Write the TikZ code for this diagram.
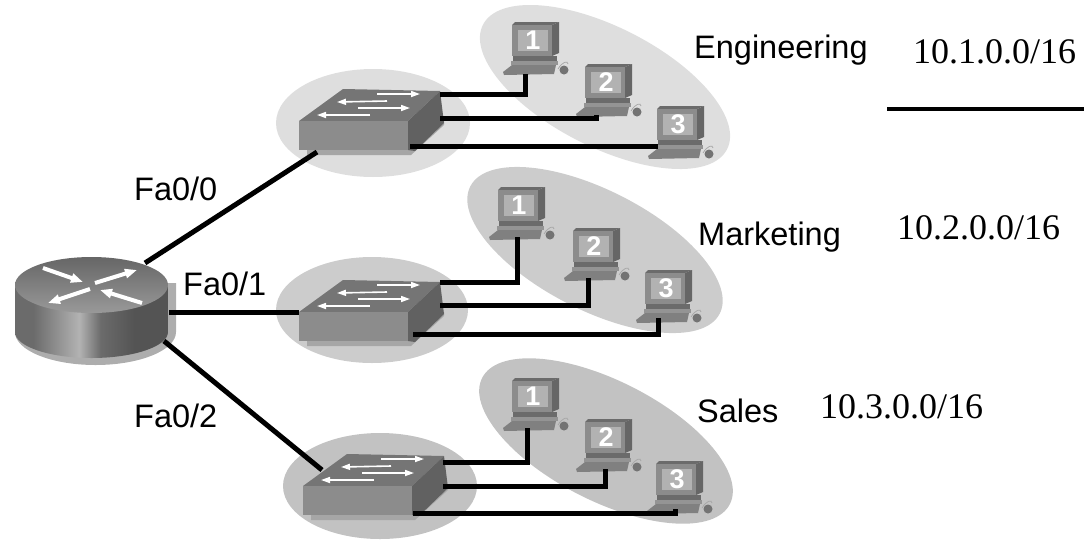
\documentclass[tikz,border=0pt]{standalone}
\usepackage{fontspec}
\setmainfont{Liberation Sans}
\newfontfamily\addrfont{Liberation Serif}
\usetikzlibrary{arrows.meta}
\definecolor{halolight}{gray}{0.87}
\definecolor{halomid}{gray}{0.80}
\definecolor{halodark}{gray}{0.76}
\definecolor{rtrdark}{gray}{0.33}
\definecolor{rtrmid}{gray}{0.42}
\definecolor{rtrlight}{gray}{0.70}
\pgfdeclarehorizontalshading{rtrbody}{100bp}{
  color(0bp)=(rtrmid); color(25bp)=(rtrmid); color(31bp)=(rtrmid);
  color(46bp)=(rtrlight); color(53bp)=(rtrmid); color(64bp)=(rtrdark);
  color(75bp)=(rtrdark); color(100bp)=(rtrdark)}
\tikzset{
  link/.style={line width=5pt, black},
  tag/.style={font=\fontsize{32.5}{34}\selectfont, inner sep=0pt, anchor=base west},
  addr/.style={font=\addrfont\fontsize{36}{38}\selectfont, inner sep=0pt, anchor=base west},
  flow/.style={white, line width=1.6pt, -{Triangle[length=9pt,width=6pt]}},
  rflow/.style={white, line width=4pt, -{Triangle[length=12pt,width=9pt]}},
  pics/switchbox/.style={code={
    \fill[black!35] (8,34) -- (112,34) -- (145,4) -- (145,0) -- (109,28) -- (8,29) -- cycle;
    \fill[black!54] (0,0) -- (44,-32) -- (141,-30) -- (109,0) -- cycle;
    \fill[black!62] (109,0) -- (141,-30) -- (145,2) -- (116,30) -- (109,29) -- cycle;
    \fill[black!45] (0,0) rectangle (109,29);
    \draw[flow] (78,-27) -- (121,-27);
    \draw[flow] (88,-20) -- (38,-19);
    \draw[flow] (59,-13) -- (111,-13);
    \draw[flow] (71,-6) -- (18,-6);
  }},
  pics/pc/.style={code={
    \fill[black!60] (20,-13) -- (27,-16) -- (27,15) -- (20,18) -- cycle;
    \fill[black!58] (-20,-13) -- (-17,-16) -- (27,-16) -- (20,-13) -- cycle;
    \fill[black!45] (-20,-13) rectangle (20,18);
    \fill[black!30] (-14,-8) rectangle (16,13);
    \fill[black!58] (-19,18) rectangle (25,23);
    \fill[black!42] (-21,23) rectangle (26,27);
    \fill[black!50] (-20,27) -- (24,27) -- (22,36) -- (-28,37) -- (-29,34) -- cycle;
    \fill[black!55] (32,32) circle (4.5);
    \draw[black!35, line width=.7pt] (26,31) .. controls (30,24) and (36,22) .. (36,26);
    \node[white, inner sep=0pt, font=\bfseries\fontsize{27}{27}\selectfont] (-num) at (1,2) {#1};
  }}
}
\begin{document}
\begin{tikzpicture}[x=1pt,y=-1pt]
  \useasboundingbox (0,0) rectangle (1084,539);

  % Halos behind the switches
  \fill[halolight] (373,123) ellipse [x radius=97, y radius=54];
  \fill[halomid] (372,310) ellipse [x radius=96, y radius=53];
  \fill[halodark] (380,486) ellipse [x radius=97, y radius=53];

  % Halos behind the PCs
  \fill[halolight] (605,87) ellipse [x radius=137, y radius=60, rotate=-27];
  \fill[halomid] (595,250) ellipse [x radius=140, y radius=60, rotate=-27];
  \fill[halodark] (606,441) ellipse [x radius=139, y radius=60, rotate=-27];

  % Switches
  \pic (swa) at (299,121) {switchbox};
  \pic (swb) at (299,312) {switchbox};
  \pic (swc) at (303,486) {switchbox};

  % PCs
  \pic (enga) at (532,38) {pc=1};
  \pic (engb) at (605,80) {pc=2};
  \pic (engc) at (677,122) {pc=3};
  \pic (mkta) at (518,203) {pc=1};
  \pic (mktb) at (593,244) {pc=2};
  \pic (mktc) at (665,286) {pc=3};
  \pic (sala) at (532,394) {pc=1};
  \pic (salb) at (605,435) {pc=2};
  \pic (salc) at (676,477) {pc=3};

  % Router
  \fill[black!32] (15,332) arc [start angle=180, end angle=0, x radius=80.5, y radius=33] -- (176,283) -- (160,283) -- (15,320) -- cycle;
  \shade[shading=rtrbody]
    (15,285) -- (15,332) arc [start angle=180, end angle=0, x radius=76.5, y radius=26] -- (168,285) -- cycle;
  \shade[top color=black!60, bottom color=black!40] (91.5,285) ellipse [x radius=76.5, y radius=28];
  \draw[rflow] (43,268) -- (83,282);
  \draw[rflow] (95,283) -- (137,270);
  \draw[rflow] (90,289) -- (48,303);
  \draw[rflow] (142,303) -- (100,290);

  % Ends of the links
  \coordinate (rtr-ne) at (145,263);
  \coordinate (rtr-e) at (169,312);
  \coordinate (rtr-se) at (164,341);
  \coordinate (swa-in) at (317,152);
  \coordinate (swb-in) at (299,312);
  \coordinate (swc-in) at (322,470);
  \coordinate (swa-p1) at (440,94);
  \coordinate (swa-p2) at (440,118);
  \coordinate (swa-p3) at (410,146);
  \coordinate (swb-p1) at (440,282);
  \coordinate (swb-p2) at (440,305);
  \coordinate (swb-p3) at (413,334);
  \coordinate (swc-p1) at (443,462);
  \coordinate (swc-p2) at (443,486);
  \coordinate (swc-p3) at (413,513);
  \coordinate (enga-p) at (525,74);
  \coordinate (engb-p) at (596,115);
  \coordinate (engc-p) at (658,146);
  \coordinate (mkta-p) at (517,237);
  \coordinate (mktb-p) at (588,278);
  \coordinate (mktc-p) at (658,318);
  \coordinate (sala-p) at (527,428);
  \coordinate (salb-p) at (605,469);
  \coordinate (salc-p) at (675,509);

  % Links from the router
  \draw[link] (rtr-ne) -- (swa-in);
  \draw[link] (rtr-e) -- (swb-in);
  \draw[link] (rtr-se) -- (swc-in);

  % Links to the PCs
  \draw[link] (swa-p1) -| (enga-p);
  \draw[link] (swa-p2) -| (engb-p);
  \draw[link] (swa-p3) -- (engc-p);
  \draw[link] (swb-p1) -| (mkta-p);
  \draw[link] (swb-p2) -| (mktb-p);
  \draw[link] (swb-p3) -| (mktc-p);
  \draw[link] (swc-p1) -| (sala-p);
  \draw[link] (swc-p2) -| (salb-p);
  \draw[link] (swc-p3) -| (salc-p);

  % Interface labels
  \node[tag] (fa0) at (134,200) {Fa0/0};
  \node[tag] (fa1) at (183,295) {Fa0/1};
  \node[tag] (fa2) at (134,427) {Fa0/2};

  % Group labels
  \node[tag] (eng) at (694,58) {Engineering};
  \node[tag] (mkt) at (698,245) {Marketing};
  \node[tag] (sal) at (697,422) {Sales};

  % Addresses
  \node[addr] (eng-net) at (913,63) {10.1.0.0/16};
  \node[addr] (mkt-net) at (897,239) {10.2.0.0/16};
  \node[addr] (sal-net) at (820,418) {10.3.0.0/16};

  % Rule under the first address
  \coordinate (rule-l) at (887,109);
  \coordinate (rule-r) at (1084,109);
  \draw[line width=4pt] (rule-l) -- (rule-r);
\end{tikzpicture}
\end{document}
